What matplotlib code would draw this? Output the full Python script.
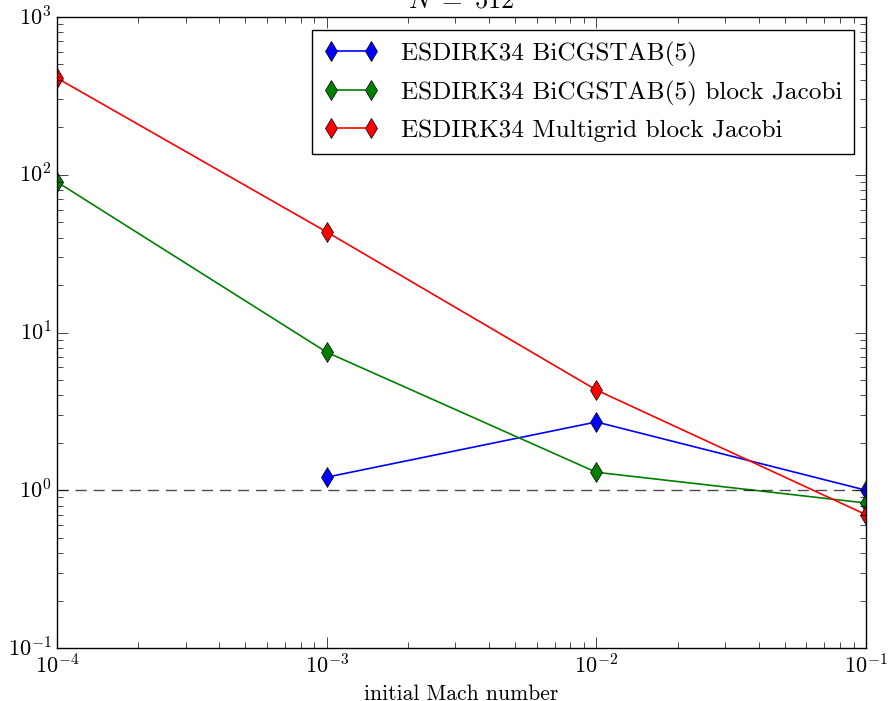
import matplotlib
matplotlib.use('Agg')
import matplotlib.pyplot as plt

mach = [1e-4, 1e-3, 1e-2, 1e-1]

# speedup values
bicgstab = [None, 1.21, 2.71, 1.0]
bicgstab_bj = [90.0, 7.5, 1.30, 0.83]
multigrid_bj = [410.0, 43.4, 4.32, 0.70]

labels = ['ESDIRK34 BiCGSTAB(5)',
          'ESDIRK34 BiCGSTAB(5) block Jacobi',
          'ESDIRK34 Multigrid block Jacobi']
colors = ['b', 'g', 'r']

plt.style.use('classic')
plt.rcParams['font.family'] = 'serif'
plt.rcParams['font.serif'] = ['cmr10']
plt.rcParams['mathtext.fontset'] = 'cm'
plt.rcParams['axes.formatter.use_mathtext'] = True

fig = plt.figure(figsize=(8.9, 7.01), dpi=100)
ax = fig.add_axes([57 / 890, 1 - 648 / 701, 809 / 890, 631 / 701])

for vals, lab, c in zip([bicgstab, bicgstab_bj, multigrid_bj], labels, colors):
    xs = [x for x, v in zip(mach, vals) if v is not None]
    ys = [v for v in vals if v is not None]
    ax.plot(xs, ys, color=c, marker='d', markersize=10, markeredgecolor='k',
            markerfacecolor=c, linewidth=1.2, label=lab)

ax.axhline(1.0, color='k', linestyle='--', dashes=(8, 5), linewidth=1.0, alpha=0.7)

ax.set_xscale('log')
ax.set_yscale('log')
ax.set_xlim(1e-4, 1e-1)
ax.set_ylim(1e-1, 1e3)
ax.set_xlabel('initial Mach number', fontsize=15.5)
ax.set_title(r'$N\ =\ 512$', fontsize=19, y=1.004)
ax.tick_params(labelsize=16)
ax.tick_params(which='major', length=8)
ax.tick_params(which='minor', length=4)

ax.legend(loc='upper right', fontsize=18.2, numpoints=2, handlelength=2.2,
          borderpad=0.45, labelspacing=0.55, handletextpad=0.9,
          bbox_to_anchor=(1.001, 0.999))

fig.savefig('out.png', dpi=100)
